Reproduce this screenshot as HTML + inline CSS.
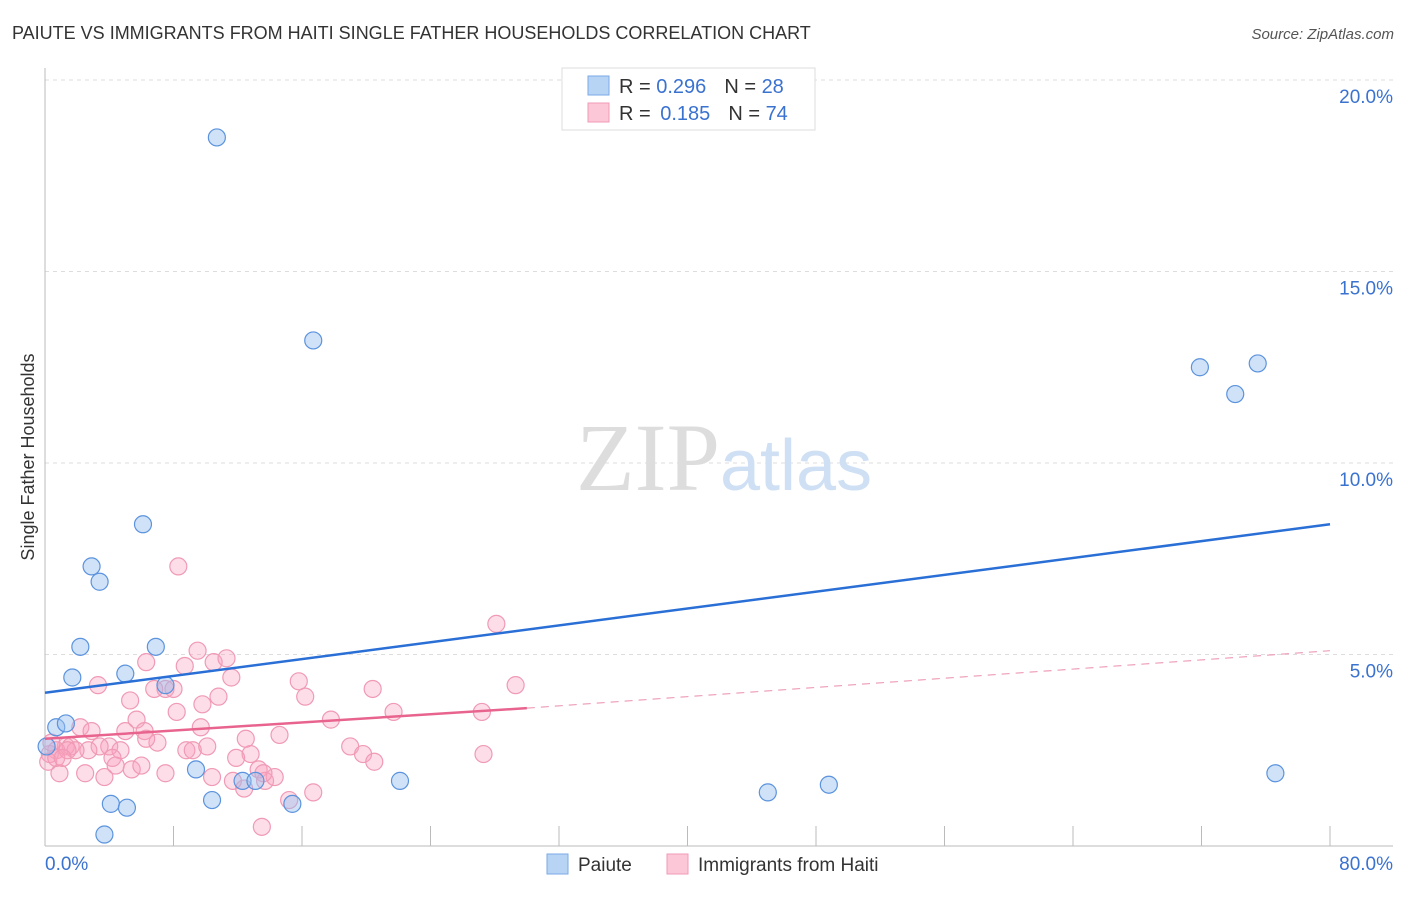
<!DOCTYPE html>
<html><head><meta charset="utf-8"><style>
body{margin:0;background:#fff;font-family:"Liberation Sans",sans-serif;}
svg text{font-family:"Liberation Sans",sans-serif;}
</style></head><body>
<svg width="1406" height="892" xmlns="http://www.w3.org/2000/svg" id="chart">
<text x="12" y="39" font-size="18" fill="#333">PAIUTE VS IMMIGRANTS FROM HAITI SINGLE FATHER HOUSEHOLDS CORRELATION CHART</text>
<text x="1394" y="39" font-size="15" fill="#555" font-style="italic" text-anchor="end">Source: ZipAtlas.com</text>
<g id="grid"></g>
<g id="axes"></g>
<text x="720" y="490" font-size="96" fill="#ddd" text-anchor="end" font-family="Liberation Serif" style="font-family:'Liberation Serif',serif">ZIP</text>
<text x="720" y="490" font-size="72" fill="#cfe0f5">atlas</text>
<g id="marks"></g>
<g id="lines"></g>
<g>
<rect x="562" y="68" width="253" height="62" fill="#fff" stroke="#ddd"/>
<rect x="588" y="76" width="21" height="19" fill="#b8d4f5" stroke="#7aaae6"/>
<rect x="588" y="103" width="21" height="19" fill="#fcc8d7" stroke="#f09ab5"/>
<text x="619" y="93" font-size="20" fill="#333">R = <tspan fill="#3a72d0">0.296</tspan><tspan dx="18">N = </tspan><tspan fill="#3a72d0">28</tspan></text>
<text x="619" y="120" font-size="20" fill="#333">R = <tspan fill="#3a72d0" dx="4">0.185</tspan><tspan dx="18">N = </tspan><tspan fill="#3a72d0">74</tspan></text>
</g>
<g>
<rect x="547" y="854" width="21" height="20" fill="#b8d4f5" stroke="#7aaae6"/>
<text x="578" y="871" font-size="19" fill="#333">Paiute</text>
<rect x="667" y="854" width="21" height="20" fill="#fcc8d7" stroke="#f09ab5"/>
<text x="698" y="871" font-size="19" fill="#333">Immigrants from Haiti</text>
</g>
<text transform="translate(34,457) rotate(-90)" font-size="18" fill="#333" text-anchor="middle">Single Father Households</text>
</svg>
<script>
const paiuteX=[10.7,16.7,71.9,75.5,74.1,6.1,2.9,3.4,2.2,6.9,1.7,5.0,7.5,0.7,1.3,0.1,9.4,12.3,13.1,22.1,15.4,10.4,4.1,5.1,3.7,45.0,48.8,76.6];
const paiuteY=[18.5,13.2,12.5,12.6,11.8,8.4,7.3,6.9,5.2,5.2,4.4,4.5,4.2,3.1,3.2,2.6,2.0,1.7,1.7,1.7,1.1,1.2,1.1,1.0,0.3,1.4,1.6,1.9];
const haitiX=[8.3,28.1,9.5,6.3,8.7,10.5,11.3,11.6,3.3,7.5,6.8,8.0,15.8,16.2,10.8,8.2,9.8,20.4,29.3,5.3,5.7,17.8,21.7,27.2,2.2,2.9,5.0,6.2,7.0,6.3,9.7,14.6,12.5,8.8,9.2,10.1,19.0,19.8,20.5,27.3,12.8,11.9,4.0,3.4,2.7,1.3,1.6,1.9,0.7,0.3,0.2,4.7,4.2,4.4,5.4,6.0,7.5,10.4,11.7,13.3,13.7,14.3,13.6,0.9,2.5,3.7,12.4,15.2,16.7,13.5,0.4,0.7,1.4,1.1];
const haitiY=[7.3,5.8,5.1,4.8,4.7,4.8,4.9,4.4,4.2,4.1,4.1,4.1,4.3,3.9,3.9,3.5,3.7,4.1,4.2,3.8,3.3,3.3,3.5,3.5,3.1,3.0,3.0,3.0,2.7,2.8,3.1,2.9,2.8,2.5,2.5,2.6,2.6,2.4,2.2,2.4,2.4,2.3,2.6,2.6,2.5,2.6,2.6,2.5,2.5,2.4,2.2,2.5,2.3,2.1,2.0,2.1,1.9,1.8,1.7,2.0,1.7,1.8,1.9,1.9,1.9,1.8,1.5,1.2,1.4,0.5,2.7,2.3,2.5,2.3];
const paiuteTrend=[[0,4.0],[80,8.4]];
const haitiTrendSolid=[[0,2.8],[30,3.6]];
const haitiTrendDash=[[30,3.6],[80,5.1]];
const yTicks=[5,10,15,20];
const yTickLabels=["5.0%","10.0%","15.0%","20.0%"];
const xTicks=[0,8,16,24,32,40,48,56,64,72,80];
const NS="http://www.w3.org/2000/svg";
const X=v=>45+v/80*1285, Y=v=>846-v*38.3;
function mk(tag,attrs,parent){const e=document.createElementNS(NS,tag);for(const k in attrs)e.setAttribute(k,attrs[k]);parent.appendChild(e);return e;}
const grid=document.getElementById('grid'),axes=document.getElementById('axes'),marks=document.getElementById('marks'),lines=document.getElementById('lines');
yTicks.forEach((t,i)=>{
 const l=mk('line',{x1:45,x2:1393,y1:Y(t),y2:Y(t),stroke:'#ddd','stroke-dasharray':'4,4'},grid);
 
 
 const tx=mk('text',{x:1393,y:Y(t)+23,'font-size':19,fill:'#3a72d0','text-anchor':'end'},axes);
 tx.textContent=yTickLabels[i];
 
 
});
mk('line',{x1:45,x2:45,y1:68,y2:846,stroke:'#bbb'},axes);
mk('line',{x1:45,x2:1393,y1:846,y2:846,stroke:'#bbb'},axes);
xTicks.forEach(t=>{
 const l=mk('line',{x1:X(t),x2:X(t),y1:826,y2:846,stroke:'#bbb'},axes);
 
 
});
let t1=mk('text',{x:45,y:870,'font-size':19,fill:'#3a72d0'},axes);t1.textContent='0.0%';


let t2=mk('text',{x:1393,y:870,'font-size':19,fill:'#3a72d0','text-anchor':'end'},axes);t2.textContent='80.0%';


haitiX.forEach((x,i)=>{
 const c=mk('circle',{cx:X(x),cy:Y(haitiY[i]),r:8.5,fill:'rgba(248,160,188,0.35)',stroke:'#f09ab5','stroke-width':1.2},marks);
 
 
});
paiuteX.forEach((x,i)=>{
 const c=mk('circle',{cx:X(x),cy:Y(paiuteY[i]),r:8.5,fill:'rgba(150,190,240,0.45)',stroke:'#5b93dd','stroke-width':1.2},marks);
 
 
});
function seg(p,st,w,dash,name){const l=mk('line',{x1:X(p[0][0]),y1:Y(p[0][1]),x2:X(p[1][0]),y2:Y(p[1][1]),stroke:st,'stroke-width':w},lines);if(dash)l.setAttribute('stroke-dasharray',dash);
 
 }
seg(paiuteTrend,'#2a6fd6',2.5,null,'paiute-trend-line');
seg(haitiTrendSolid,'#e8648f',2.5,null,'haiti-trend-line');
seg(haitiTrendDash,'#eea0b8',1.2,'8,6','haiti-trend-extension');
</script>
</body></html>
